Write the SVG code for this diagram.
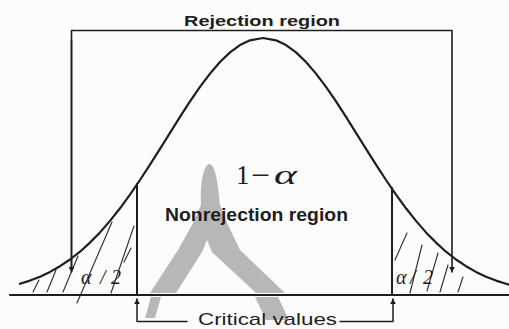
<svg xmlns="http://www.w3.org/2000/svg" width="509" height="329" viewBox="0 0 509 329">
<style>
.ln{fill:none;stroke:#1e1e1e;stroke-linecap:round;stroke-linejoin:round}
.hatch{fill:none;stroke:#2a2a2a;stroke-width:1.1;stroke-linecap:round}
.bold{font-family:"Liberation Sans",Arial,sans-serif;font-weight:bold;fill:#1e1e1e}
.reg{font-family:"Liberation Sans",Arial,sans-serif;fill:#1e1e1e}
.ser{font-family:"Liberation Serif","Times New Roman",serif;fill:#1e1e1e}
</style>
<defs>
<marker id="ah" viewBox="0 0 10 10" refX="9" refY="5" markerWidth="6" markerHeight="6" orient="auto" markerUnits="userSpaceOnUse">
<path d="M0,0 L10,5 L0,10 Z" fill="#1e1e1e"/>
</marker>
</defs>
<rect width="509" height="329" fill="#fcfcfc"/>
<g id="showthrough" fill="#acacac" opacity="0.85">
<path d="M201,205 C200,185 203,166 209,164 C215,163 218,183 220,205 L228,225 L240,250 L285,293 L256,293 L212,252 L207,240 L202,252 L176,293 L150,293 L178,250 L192,225 Z"/>
<path d="M145,318 L151,297 L161,297 L155,318 Z"/>
<path d="M255,297 L278,297 L289,320 L266,320 Z"/>
</g>
<g id="hatching">
<line class="hatch" x1="33" y1="292" x2="39" y2="280"/>
<line class="hatch" x1="47" y1="292" x2="56" y2="270"/>
<line class="hatch" x1="63" y1="292" x2="78" y2="256"/>
<line class="hatch" x1="77" y1="303" x2="112" y2="222"/>
<line class="hatch" x1="111" y1="293" x2="134" y2="226"/>
<line class="hatch" x1="124" y1="262" x2="131" y2="248"/>
<line class="hatch" x1="395" y1="260" x2="407" y2="233"/>
<line class="hatch" x1="410" y1="293" x2="422" y2="245"/>
<line class="hatch" x1="427" y1="291" x2="438" y2="253"/>
<line class="hatch" x1="440" y1="292" x2="448" y2="265"/>
<line class="hatch" x1="458" y1="292" x2="463" y2="277"/>
</g>
<g id="curve">
<polyline class="ln" stroke-width="2.2" points="20,283.8 30,280.6 40,276.7 50,271.9 60,266.2 70,259.5 80,251.7 90,242.6 100,232.4 110,220.9 120,208.3 130,194.6 140,180 150,164.6 160,148.8 170,132.8 180,116.8 190,101.4 200,86.9 210,73.6 220,62 230,52.4 240,45.1 250,40.3 263,38 276,40.3 286,45.1 296,52.4 306,62 316,73.6 326,86.9 336,101.4 346,116.8 356,132.8 366,148.8 376,164.6 386,180 396,194.6 406,208.3 416,220.9 426,232.4 436,242.6 446,251.7 456,259.5 466,266.2 476,271.9 486,276.7 496,280.6 506,283.8 509,284.7"/>
</g>
<g id="connectors">
<path class="ln" stroke-width="1.6" d="M71.5,271 V30.5 H452 V272" marker-end="url(#ah)"/>
<path class="ln" stroke-width="1.6" d="M71.5,40 V272" marker-end="url(#ah)"/>
<line class="ln" stroke-width="2.2" x1="10" y1="295" x2="509" y2="295"/>
<line class="ln" stroke-width="2" x1="137" y1="184" x2="137" y2="295"/>
<line class="ln" stroke-width="2" x1="392" y1="188" x2="392" y2="295"/>
<path class="ln" stroke-width="1.5" d="M187,321.5 H137 V299" marker-end="url(#ah)"/>
<path class="ln" stroke-width="1.5" d="M340,321.5 H393 V299" marker-end="url(#ah)"/>
</g>
<g id="labels">
<text class="bold" x="184" y="26" font-size="15" textLength="156" lengthAdjust="spacingAndGlyphs">Rejection region</text>
<text class="ser" x="236" y="184" font-size="27">1</text>
<text class="ser" x="251" y="184" font-size="27" textLength="19" lengthAdjust="spacingAndGlyphs">−</text>
<text class="ser" x="274" y="184" font-size="27" font-style="italic" textLength="23" lengthAdjust="spacingAndGlyphs">α</text>
<text class="bold" x="165" y="221" font-size="19" textLength="183" lengthAdjust="spacingAndGlyphs">Nonrejection region</text>
<text class="reg" x="198" y="325" font-size="17" textLength="139" lengthAdjust="spacingAndGlyphs">Critical values</text>
<text class="ser" font-style="italic" x="81 100 111" y="284" font-size="20">α/2</text>
<text class="ser" font-style="italic" x="396 410 423" y="284" font-size="20">α/2</text>
</g>
</svg>
